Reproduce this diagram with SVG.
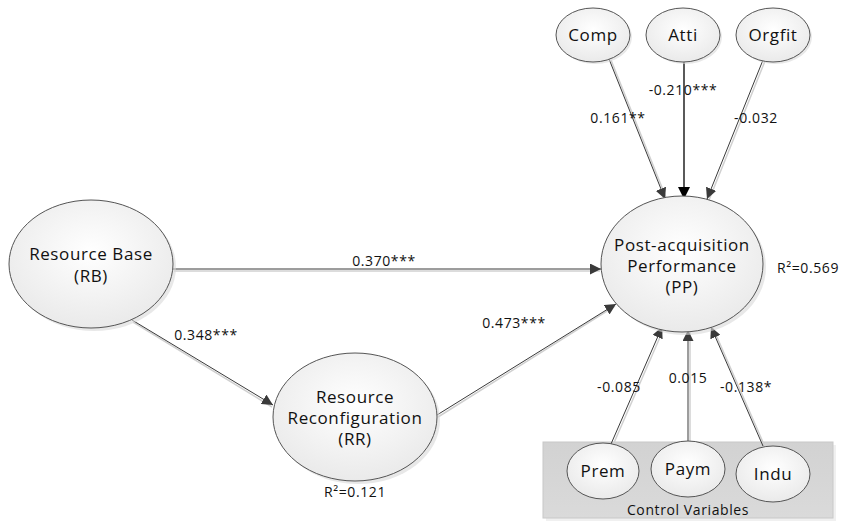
<svg xmlns="http://www.w3.org/2000/svg" width="844" height="524" viewBox="0 0 844 524">
  <style>
    .node ellipse.body { fill: url(#nodeFill); stroke: #555; stroke-width: 1; }
    .node ellipse.shade { fill: #d9d9d9; opacity: 0.6; }
    .lbl { font-family: "Open Sans", "Liberation Sans", sans-serif; font-size: 17px; letter-spacing: 0.6px; fill: #111; text-anchor: middle; }
    .small { font-family: "Open Sans", "Liberation Sans", sans-serif; font-size: 14px; letter-spacing: 0.6px; fill: #111; text-anchor: middle; }
    .edge { stroke: #3a3a3a; stroke-width: 1; fill: none; marker-end: url(#arrow); }
    .edge-shadow { stroke: #d0d0d0; stroke-width: 1.5; fill: none; }
  </style>
  <defs>
    <radialGradient id="nodeFill" cx="50%" cy="40%" r="65%">
      <stop offset="0" stop-color="#ffffff"/>
      <stop offset="1" stop-color="#e8e8e8"/>
    </radialGradient>
    <linearGradient id="boxFill" x1="0" y1="0" x2="0" y2="1">
      <stop offset="0" stop-color="#d2d2d2"/>
      <stop offset="1" stop-color="#dadada"/>
    </linearGradient>
    <marker id="arrow" viewBox="0 0 10 10" refX="10" refY="5" markerWidth="11" markerHeight="11" markerUnits="userSpaceOnUse" orient="auto">
      <path d="M0,0 L10,5 L0,10 Z" fill="#3a3a3a"/>
    </marker>
    <marker id="arrowBlack" viewBox="0 0 10 10" refX="10" refY="5" markerWidth="12" markerHeight="12" markerUnits="userSpaceOnUse" orient="auto">
      <path d="M0,0 L10,5 L0,10 Z" fill="#000"/>
    </marker>
  </defs>

  <!-- control variables panel -->
  <g id="control-panel">
    <rect x="546" y="445" width="290" height="76" fill="#f0f0f0"/>
    <rect x="543" y="442" width="290" height="76" fill="url(#boxFill)" stroke="#c8c8c8" stroke-width="1"/>
    <text class="small" x="688" y="515">Control Variables</text>
  </g>

  <!-- connectors -->
  <g id="connectors">
    <g>
      <line class="edge-shadow" x1="174" y1="271" x2="600" y2="271"/>
      <line class="edge" x1="173" y1="269" x2="601" y2="269"/>
      <line class="edge-shadow" x1="133" y1="322" x2="272" y2="407"/>
      <line class="edge" x1="132" y1="320" x2="273" y2="405"/>
      <line class="edge-shadow" x1="438" y1="417" x2="615" y2="306"/>
      <line class="edge" x1="437" y1="415" x2="616" y2="304"/>
      <line class="edge-shadow" x1="611" y1="60" x2="667" y2="200"/>
      <line class="edge" x1="609" y1="59" x2="665" y2="199"/>
      <line x1="684" y1="62" x2="684" y2="199" stroke="#000" stroke-width="1.3" marker-end="url(#arrowBlack)"/>
      <line class="edge-shadow" x1="765" y1="61" x2="709" y2="200"/>
      <line class="edge" x1="763" y1="60" x2="707" y2="199"/>
      <line class="edge-shadow" x1="613" y1="445" x2="664" y2="328"/>
      <line class="edge" x1="611" y1="444" x2="662" y2="327"/>
      <line class="edge-shadow" x1="690" y1="442" x2="690" y2="331"/>
      <line class="edge" x1="688" y1="442" x2="688" y2="330"/>
      <line class="edge-shadow" x1="765" y1="447" x2="713" y2="328"/>
      <line class="edge" x1="763" y1="446" x2="711" y2="327"/>
    </g>
    <g>
      <text class="small" x="384" y="266">0.370***</text>
      <text class="small" x="206" y="340">0.348***</text>
      <text class="small" x="514" y="328">0.473***</text>
      <text class="small" x="618" y="123">0.161**</text>
      <text class="small" x="683" y="95">-0.210***</text>
      <text class="small" x="756" y="123">-0.032</text>
      <text class="small" x="619" y="392">-0.085</text>
      <text class="small" x="688" y="383">0.015</text>
      <text class="small" x="746" y="392">-0.138*</text>
    </g>
  </g>

  <g id="RB" class="node">
    <ellipse class="shade" cx="94" cy="267" rx="82" ry="64"/>
    <ellipse class="body" cx="91" cy="264" rx="82" ry="64"/>
    <text class="lbl" x="91" y="260">Resource Base</text>
    <text class="lbl" x="91" y="282">(RB)</text>
  </g>

  <g id="RR" class="node">
    <ellipse class="shade" cx="358" cy="420" rx="82" ry="64"/>
    <ellipse class="body" cx="355" cy="417" rx="82" ry="64"/>
    <text class="lbl" x="355" y="403">Resource</text>
    <text class="lbl" x="355" y="424">Reconfiguration</text>
    <text class="lbl" x="355" y="445">(RR)</text>
    <text class="small" x="355" y="497">R²=0.121</text>
  </g>

  <g id="PP" class="node">
    <ellipse class="shade" cx="685" cy="267" rx="81" ry="68"/>
    <ellipse class="body" cx="682" cy="264" rx="81" ry="68"/>
    <text class="lbl" x="682" y="251">Post-acquisition</text>
    <text class="lbl" x="682" y="272">Performance</text>
    <text class="lbl" x="682" y="293">(PP)</text>
    <text class="small" x="808" y="273">R²=0.569</text>
  </g>

  <g id="Comp" class="node">
    <ellipse class="shade" cx="595" cy="37" rx="37" ry="27"/>
    <ellipse class="body" cx="593" cy="35" rx="37" ry="27"/>
    <text class="lbl" x="593" y="41">Comp</text>
  </g>

  <g id="Atti" class="node">
    <ellipse class="shade" cx="685" cy="37" rx="37" ry="27"/>
    <ellipse class="body" cx="683" cy="35" rx="37" ry="27"/>
    <text class="lbl" x="683" y="41">Atti</text>
  </g>

  <g id="Orgfit" class="node">
    <ellipse class="shade" cx="775" cy="37" rx="37" ry="27"/>
    <ellipse class="body" cx="773" cy="35" rx="37" ry="27"/>
    <text class="lbl" x="773" y="41">Orgfit</text>
  </g>

  <g id="Prem" class="node">
    <ellipse class="body" cx="603" cy="471" rx="36" ry="28"/>
    <text class="lbl" x="603" y="477">Prem</text>
  </g>

  <g id="Paym" class="node">
    <ellipse class="body" cx="688" cy="469" rx="37" ry="28"/>
    <text class="lbl" x="688" y="475">Paym</text>
  </g>

  <g id="Indu" class="node">
    <ellipse class="body" cx="773" cy="474" rx="37" ry="28"/>
    <text class="lbl" x="773" y="480">Indu</text>
  </g>
</svg>
